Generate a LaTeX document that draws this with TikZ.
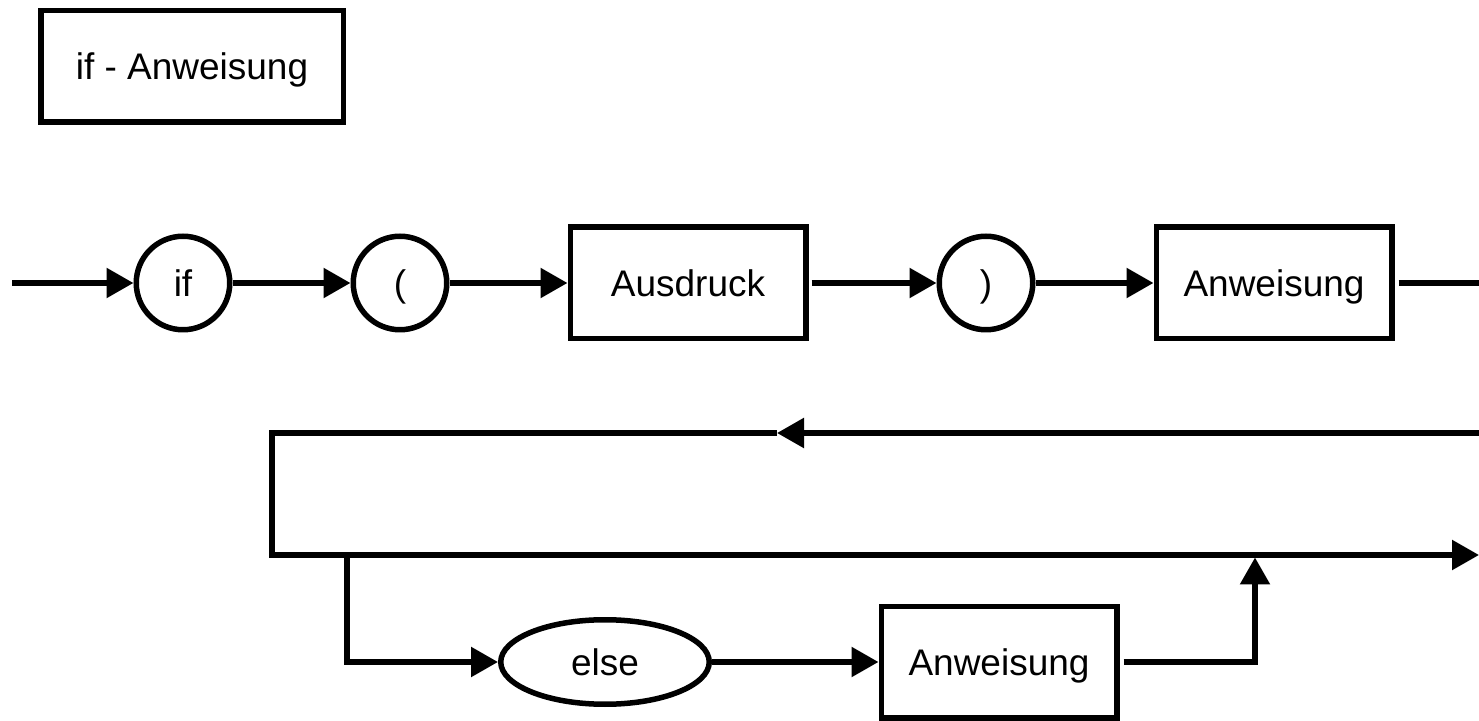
\documentclass[tikz,border=0pt]{standalone}
\usepackage{fontspec}
\setmainfont{Liberation Sans}
\usetikzlibrary{positioning, chains, shapes.geometric, arrows.meta}

\begin{document}
\begin{tikzpicture}[x=1pt, y=1pt, line width=5.5pt,
    every node/.style={font=\fontsize{37}{44}\selectfont, text depth=0pt},
    keyword/.style={circle, draw, minimum size=93.5pt, inner sep=0pt},
    rule/.style={rectangle, draw, minimum width=235.5pt, minimum height=111.5pt, inner sep=0pt},
    >={Triangle[length=27pt,width=29pt]}, start chain, node distance=118pt]

  \useasboundingbox (0,0) rectangle (1479,720);

  \node[rectangle, draw, minimum width=302.5pt, minimum height=111.5pt] (title) at (192,653.5) {if - Anweisung};

  % main row
  \node[keyword, on chain] (ifkw) at (183,437) {if};
  \node[keyword, on chain] (lpar) {(};
  \node[rule, on chain] (expr) {Ausdruck};
  \node[keyword, on chain, xshift=10pt] (rpar) {)};
  \node[rule, on chain] (stmt) {Anweisung};

  % else branch
  \node[ellipse, draw, minimum width=208.5pt, minimum height=84.5pt, inner sep=0pt] (elsekw) at (605,58) {else};
  \node[rule, right=166.5pt of elsekw] (stmtb) {Anweisung};

  \coordinate (in) at (12,437);
  \coordinate (outA) at (1479,437);
  \coordinate (backR) at (1479,287);
  \coordinate (backM) at (777,287);
  \coordinate (backL) at (272,287);
  \coordinate (joinL) at (272,165);
  \coordinate (splitL) at (347,165);
  \coordinate (mergeR) at (1255,162.5);
  \coordinate (exitR) at (1479,165);

  \draw[->] (in) -- (ifkw);
  \draw[->] (ifkw) -- (lpar);
  \draw[->] (lpar) -- (expr);
  \draw[->, shorten <=3pt] (expr) -- (rpar);
  \draw[->] (rpar) -- (stmt);
  \draw[shorten <=4pt] (stmt) -- (outA);

  \draw[->] (backR) -- (backM);
  \draw[->] (backM) -- (backL) -- (joinL) -- (exitR);
  \draw[->] (splitL) |- (elsekw);
  \draw[->] (elsekw) -- (stmtb);
  \draw[->, shorten <=4pt] (stmtb) -| (mergeR);
\end{tikzpicture}
\end{document}
